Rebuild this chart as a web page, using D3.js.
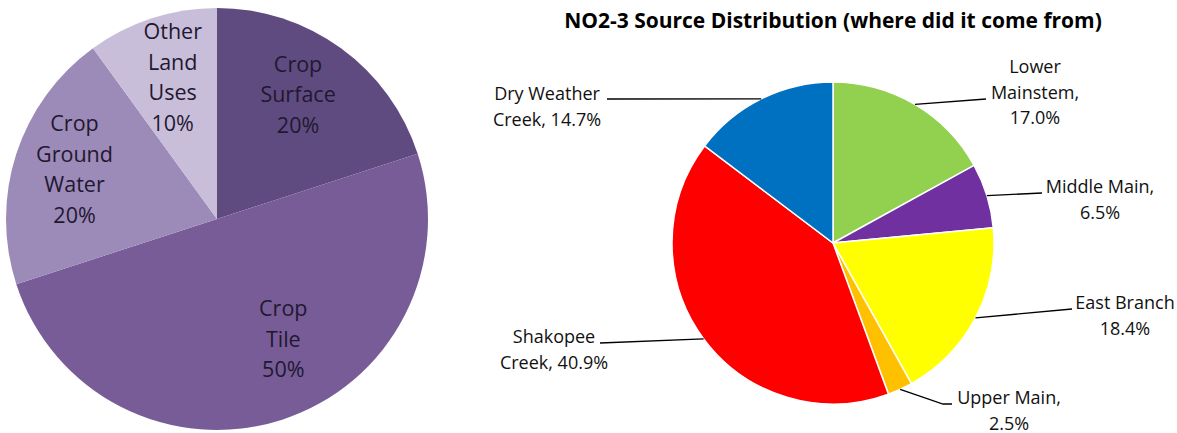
<!DOCTYPE html>
<html>
<head>
<meta charset="utf-8">
<script src="https://cdn.jsdelivr.net/npm/d3@7"></script>
<style>
  body { margin: 0; background: #fff; }
  svg { display: block; font-family: "Open Sans", sans-serif; }
</style>
</head>
<body>
<svg width="1177" height="433"></svg>
<script>
// left pie: where the land use load comes from
const landUses = ['Crop Surface', 'Crop Tile', 'Crop Ground Water', 'Other Land Uses'];
const landShares = [20, 50, 20, 10];
const landLabels = [['Crop', 'Surface', '20%'], ['Crop', 'Tile', '50%'], ['Crop', 'Ground', 'Water', '20%'], ['Other', 'Land', 'Uses', '10%']];
const landColors = ['#5f4b80', '#775c98', '#9c8ab8', '#c8bed9'];

// right pie: NO2-3 source distribution
const sources = ['Lower Mainstem', 'Middle Main', 'East Branch', 'Upper Main', 'Shakopee Creek', 'Dry Weather Creek'];
const sourceShares = [17.0, 6.5, 18.4, 2.5, 40.9, 14.7];
const sourceLabels = [['Lower', 'Mainstem,', '17.0%'], ['Middle Main,', '6.5%'], ['East Branch', '18.4%'], ['Upper Main,', '2.5%'], ['Shakopee', 'Creek, 40.9%'], ['Dry Weather', 'Creek, 14.7%']];
const sourceColors = ['#92d050', '#7030a0', '#ffff00', '#ffc000', '#ff0000', '#0070c0'];

const svg = d3.select('svg');

// ---------- left pie ----------
const left = {cx: 217, cy: 219, r: 211};
const landNudge = [[-7, -3], [20, -22], [0, -3], [2, 1]];
const landLineH = 30.5;

const gL = svg.append('g').attr('transform', `translate(${left.cx},${left.cy})`);
const pie = d3.pie().sort(null).value(d => d.value);
const landData = pie(landUses.map((k, i) => ({key: k, value: landShares[i], lines: landLabels[i], i})));
const arcL = d3.arc().innerRadius(0).outerRadius(left.r);
const labelArcL = d3.arc().innerRadius(left.r * 0.71).outerRadius(left.r * 0.71);

gL.selectAll('path').data(landData).enter().append('path')
  .attr('d', arcL)
  .attr('fill', d => landColors[d.data.i]);

gL.selectAll('text.lbl').data(landData).enter().append('text')
  .attr('class', 'lbl')
  .attr('text-anchor', 'middle')
  .attr('font-size', 21.5)
  .attr('fill', '#1f1830')
  .each(function(d) {
    const [x, y] = labelArcL.centroid(d);
    const n = d.data.lines;
    const nx = x + landNudge[d.data.i][0];
    const ny = y + landNudge[d.data.i][1];
    const y0 = ny - (n.length - 1) / 2 * landLineH + 7.5;
    d3.select(this).selectAll('tspan').data(n).enter().append('tspan')
      .attr('x', nx).attr('y', (t, j) => y0 + j * landLineH)
      .text(t => t);
  });

// ---------- right pie ----------
const right = {cx: 833, cy: 243, r: 161};
// label placement relative to pie centre: text centre x, first baseline, leader end point, optional elbow
const sourceLayout = [
  {tx: 202, ty: -170, ex: 153, ey: -144},
  {tx: 267, ty: -50, ex: 209, ey: -50},
  {tx: 292, ty: 66, ex: 239, ey: 66},
  {tx: 176, ty: 161, ex: 119, ey: 161, bx: 110, by: 161},
  {tx: -279, ty: 100, ex: -233, ey: 100},
  {tx: -286, ty: -143, ex: -226, ey: -144}
];
const srcLineH = 25.5;

svg.append('text')
  .attr('x', right.cx)
  .attr('y', 28)
  .attr('text-anchor', 'middle')
  .attr('font-size', 21)
  .attr('font-weight', 'bold')
  .attr('fill', '#000')
  .text('NO2-3 Source Distribution (where did it come from)');

const gR = svg.append('g').attr('transform', `translate(${right.cx},${right.cy})`);
const srcData = pie(sources.map((k, i) => ({key: k, value: sourceShares[i], lines: sourceLabels[i], i})));
const arcR = d3.arc().innerRadius(0).outerRadius(right.r);
const edgeArc = d3.arc().innerRadius(right.r).outerRadius(right.r);

gR.selectAll('path').data(srcData).enter().append('path')
  .attr('d', arcR)
  .attr('fill', d => sourceColors[d.data.i])
  .attr('stroke', '#fff')
  .attr('stroke-width', 1.5);

gR.selectAll('polyline').data(srcData).enter().append('polyline')
  .attr('fill', 'none')
  .attr('stroke', '#000')
  .attr('stroke-width', 1.3)
  .attr('points', d => {
    const L = sourceLayout[d.data.i];
    const pts = [edgeArc.centroid(d)];
    if (L.bx !== undefined) pts.push([L.bx, L.by]);
    pts.push([L.ex, L.ey]);
    return pts.map(p => p.join(',')).join(' ');
  });

gR.selectAll('text.lbl').data(srcData).enter().append('text')
  .attr('class', 'lbl')
  .attr('text-anchor', 'middle')
  .attr('font-size', 18)
  .attr('fill', '#111')
  .each(function(d) {
    const L = sourceLayout[d.data.i];
    d3.select(this).selectAll('tspan').data(d.data.lines).enter().append('tspan')
      .attr('x', L.tx).attr('y', (t, j) => L.ty + j * srcLineH)
      .text(t => t);
  });
</script>
</body>
</html>
